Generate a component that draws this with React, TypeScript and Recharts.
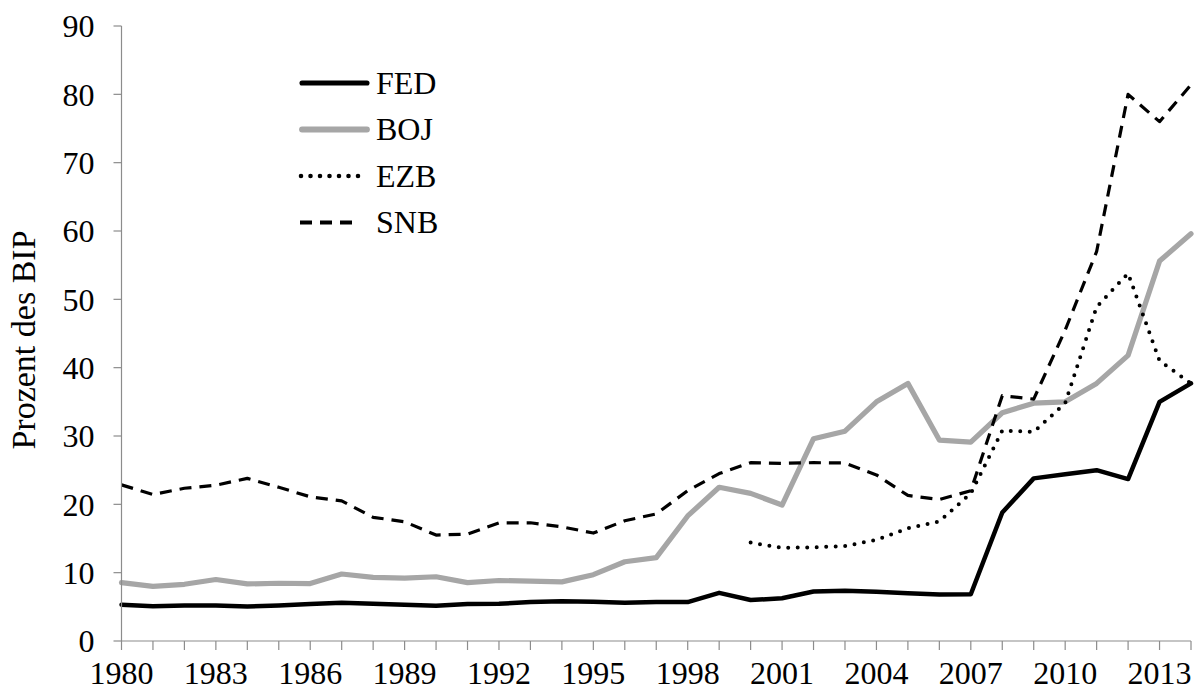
import React from 'react';
import { LineChart, Line, XAxis, YAxis, Legend } from 'recharts';

const YEARS = [
  1980, 1981, 1982, 1983, 1984, 1985, 1986, 1987, 1988, 1989,
  1990, 1991, 1992, 1993, 1994, 1995, 1996, 1997, 1998, 1999,
  2000, 2001, 2002, 2003, 2004, 2005, 2006, 2007, 2008, 2009,
  2010, 2011, 2012, 2013, 2014,
];

const FED = [
  5.3, 5.1, 5.2, 5.2, 5.05, 5.2, 5.4, 5.6, 5.45, 5.3,
  5.15, 5.4, 5.45, 5.7, 5.8, 5.75, 5.6, 5.7, 5.7, 7.05,
  6.0, 6.25, 7.25, 7.35, 7.2, 7.0, 6.8, 6.85, 18.8, 23.8,
  24.4, 25.0, 23.7, 35.0, 37.7,
];

const BOJ = [
  8.55, 8.0, 8.3, 9.0, 8.35, 8.45, 8.4, 9.8, 9.3, 9.2,
  9.4, 8.55, 8.85, 8.75, 8.65, 9.7, 11.6, 12.2, 18.3, 22.5,
  21.6, 19.9, 29.6, 30.7, 35.0, 37.7, 29.4, 29.1, 33.4, 34.8,
  35.0, 37.7, 41.8, 55.6, 59.6,
];

const EZB: (number | null)[] = [
  null, null, null, null, null, null, null, null, null, null,
  null, null, null, null, null, null, null, null, null, null,
  14.4, 13.65, 13.7, 13.9, 14.8, 16.5, 17.5, 21.6, 30.8, 30.6,
  34.8, 48.9, 53.8, 41.0, 37.7,
];

const SNB = [
  22.85, 21.45, 22.35, 22.8, 23.8, 22.5, 21.1, 20.5, 18.1, 17.45,
  15.5, 15.65, 17.3, 17.3, 16.7, 15.8, 17.6, 18.6, 22.0, 24.5,
  26.1, 26.0, 26.1, 26.05, 24.3, 21.3, 20.7, 22.0, 35.9, 35.4,
  45.5, 57.0, 80.0, 76.0, 81.4,
];

const Y_TICKS = [0, 10, 20, 30, 40, 50, 60, 70, 80, 90];
const X_LABEL_STEP = 3;
const Y_TITLE = 'Prozent des BIP';

const SERIES = [
  { key: 'FED', color: '#000000', width: 4.5, dash: undefined as string | undefined, cap: 'round' },
  { key: 'BOJ', color: '#a6a6a6', width: 5.2, dash: undefined as string | undefined, cap: 'round' },
  { key: 'EZB', color: '#000000', width: 4, dash: '0 9.5', cap: 'round' },
  { key: 'SNB', color: '#000000', width: 3.2, dash: '12 8', cap: 'butt' },
];

const data = YEARS.map((year, i) => ({
  year,
  FED: FED[i],
  BOJ: BOJ[i],
  EZB: EZB[i],
  SNB: SNB[i],
}));

const FONT = "'Liberation Serif', 'Times New Roman', 'DejaVu Serif', serif";
const AXIS_COLOR = '#8c8c8c';

const XTick = (props: any) => {
  const { x, y, payload } = props;
  if ((payload.value - YEARS[0]) % X_LABEL_STEP !== 0) return <g />;
  return (
    <text
      x={x}
      y={y}
      dy="0.71em"
      textAnchor="middle"
      style={{ fontSize: 32, fontFamily: FONT }}
      fill="#000"
    >
      {payload.value}
    </text>
  );
};

const LEGEND_ROWS = [24, 70.5, 117, 163.5];
const LEGEND_LINES: Record<string, [number, number]> = {
  FED: [4, 69],
  BOJ: [4, 69],
  EZB: [3, 61],
  SNB: [2, 58],
};

const LegendContent = () => (
  <svg width={200} height={190} style={{ display: 'block', overflow: 'visible' }}>
    {SERIES.map((s, i) => (
      <g key={s.key}>
        <line
          x1={LEGEND_LINES[s.key][0]}
          x2={LEGEND_LINES[s.key][1]}
          y1={LEGEND_ROWS[i]}
          y2={LEGEND_ROWS[i]}
          stroke={s.color}
          strokeWidth={s.width + 0.6}
          strokeDasharray={s.dash}
          strokeLinecap={s.cap as any}
        />
        <text
          x={78}
          y={LEGEND_ROWS[i] + 10.6}
          style={{ fontSize: 32, fontFamily: FONT }}
          fill="#000"
        >
          {s.key}
        </text>
      </g>
    ))}
  </svg>
);

const YTitle = () => (
  <text
    x={35}
    y={340}
    transform="rotate(-90 35 340)"
    textAnchor="middle"
    style={{ fontSize: 34, fontFamily: FONT }}
    fill="#000"
  >
    {Y_TITLE}
  </text>
);

export default function App() {
  return (
    <div
      style={{
        position: 'absolute',
        left: 0,
        top: 0,
        width: 1200,
        height: 691,
        background: '#fff',
        fontFamily: FONT,
      }}
    >
      <LineChart
        width={1200}
        height={691}
        data={data}
        margin={{ top: 26, right: 9, bottom: 0, left: 0 }}
        style={{ fontFamily: FONT }}
      >
        <XAxis
          dataKey="year"
          type="number"
          domain={[1980, 2014]}
          ticks={YEARS}
          interval={0}
          height={50}
          tick={<XTick />}
          tickSize={9}
          tickMargin={11}
          axisLine={{ stroke: AXIS_COLOR, strokeWidth: 1.2 }}
          tickLine={{ stroke: AXIS_COLOR, strokeWidth: 1.2 }}
          allowDecimals={false}
        />
        <YAxis
          type="number"
          domain={[0, 90]}
          ticks={Y_TICKS}
          interval={0}
          width={121.5}
          tickSize={8}
          tickMargin={19}
          tick={{ fontSize: 32, fontFamily: FONT, fill: '#000', style: { fontFamily: FONT } }}
          axisLine={{ stroke: AXIS_COLOR, strokeWidth: 1.2 }}
          tickLine={{ stroke: AXIS_COLOR, strokeWidth: 1.2 }}
          label={<YTitle />}
        />
        <Legend
          layout="vertical"
          align="center"
          verticalAlign="middle"
          content={<LegendContent />}
          wrapperStyle={{ left: 298, top: 59, width: 200, height: 190 }}
        />
        {SERIES.map((s) => (
          <Line
            key={s.key}
            type="linear"
            dataKey={s.key}
            stroke={s.color}
            strokeWidth={s.width}
            strokeDasharray={s.dash}
            strokeLinecap={s.cap as any}
            strokeLinejoin="round"
            dot={false}
            activeDot={false}
            isAnimationActive={false}
            connectNulls={false}
          />
        ))}
      </LineChart>
    </div>
  );
}
